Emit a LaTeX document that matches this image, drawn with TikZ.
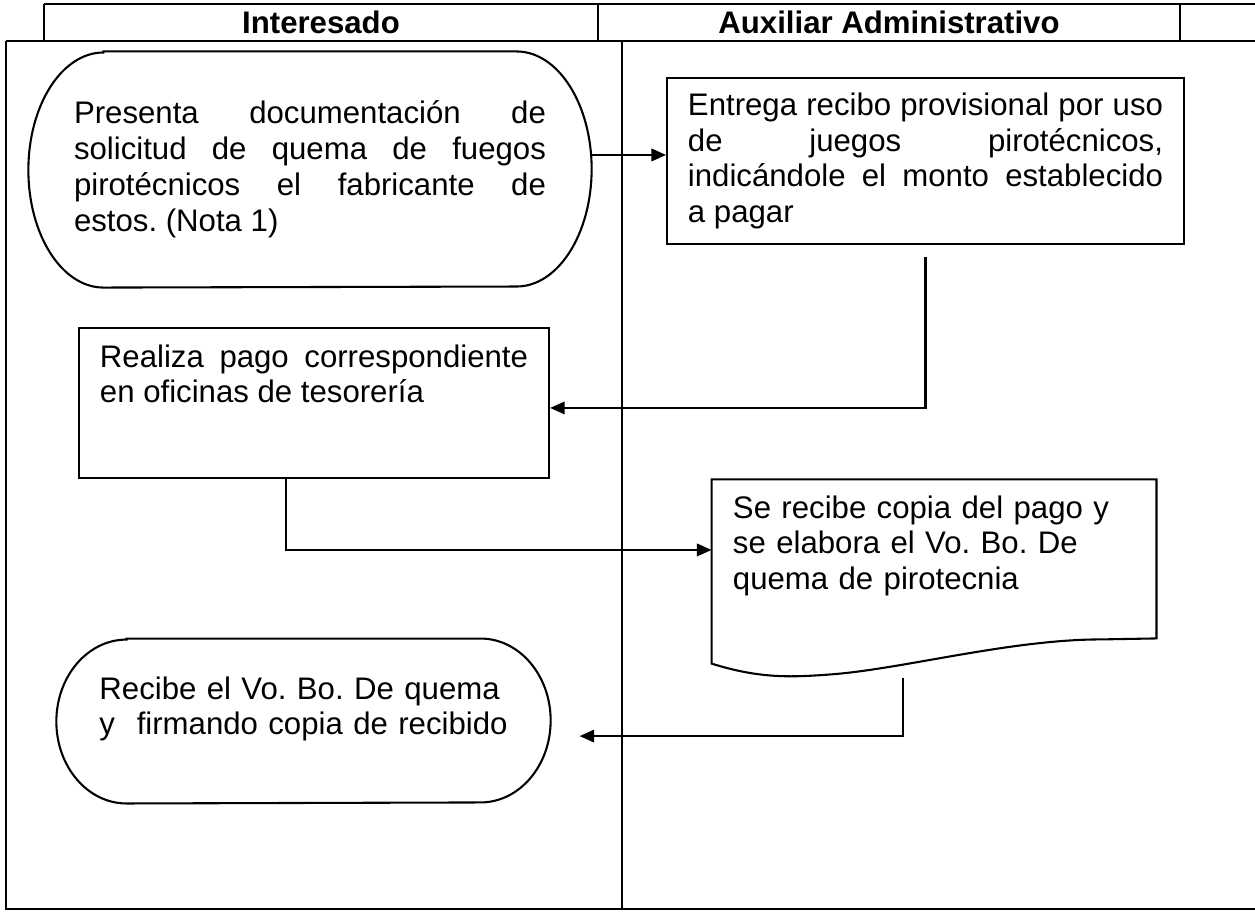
\documentclass[tikz,border=0pt]{standalone}
\usepackage{fontspec}
\setmainfont{Liberation Sans}
\usepackage{tikz}
\usetikzlibrary{positioning}
\usetikzlibrary{calc}
\usetikzlibrary{arrows.meta}
\newcommand{\pxl}{0.385pt}

\begin{document}
\frenchspacing
\begin{tikzpicture}[x=\pxl, y=-\pxl, font=\fontsize{12}{13.8}\selectfont\frenchspacing,
    lane/.style = {draw=black, line width=0.8pt},
    hdr/.style = {font=\fontsize{12}{13.8}\selectfont\bfseries, inner sep=0pt},
    term/.style = {rectangle, align=justify, inner sep=4pt},
    proc/.style = {draw=black, line width=0.8pt, rectangle, inner sep=4pt},
    docu/.style = {rectangle, align=left, inner sep=4pt},
    flow/.style = {draw=black, line width=0.8pt, -{Triangle[length=5.6pt, width=4.8pt]}}]

\useasboundingbox (0,0) rectangle (1255,914);

\draw[lane] (44,4) -- (1255,4);
\draw[lane] (44,4) -- (44,41);
\draw[lane] (598,4) -- (598,41);
\draw[lane] (1180,4) -- (1180,41);
\draw[lane] (6,41) -- (1255,41);
\draw[lane] (6,41) -- (6,909) -- (1255,909);
\draw[lane] (622,41) -- (622,909);

\node[hdr] (h1) at (321,22) {Interesado};
\node[hdr] (h2) at (889,22) {Auxiliar Administrativo};

\node[term, minimum width=216.4pt, minimum height=90.5pt, text width=181.7pt] (t1) at (310,169.5) {Presenta documentación de\linebreak solicitud de quema de fuegos\linebreak pirotécnicos el fabricante de\linebreak estos. (Nota 1)};
\draw[lane] ($(t1.north west)+(75,0)$) -- ($(t1.north east)+(-75,0)$) arc[start angle=90, end angle=-90, x radius=28.9pt, y radius=45.25pt] -- ($(t1.south west)+(75,0)$) arc[start angle=270, end angle=90, x radius=28.9pt, y radius=45.25pt] -- cycle;

\node[proc, align=justify, minimum width=199pt, minimum height=63.9pt, text width=182.9pt] (b1) at (925.5,161) {Entrega recibo provisional por uso\linebreak de juegos pirotécnicos,\linebreak indicándole el monto establecido\linebreak a pagar};

\node[proc, align=justify, minimum width=181pt, minimum height=57.75pt, text width=164.8pt, text height=9pt, text depth=36.7pt] (b2) at (314,403) {Realiza pago correspondiente\linebreak en oficinas de tesorería};

\node[docu, minimum width=170.9pt, minimum height=70.5pt, text width=154.8pt, text height=9pt, text depth=50.2pt] (b3) at (934,571.5) {Se recibe copia del pago y\\se elabora el Vo. Bo. De\\quema de pirotecnia};
\draw[lane] (b3.south west) -- (b3.north west) -- (b3.north east) -- ++(0,159) -- ++(-56,1) .. controls +(-90,0) and +(70,-5) .. ++(-270,35) .. controls +(-40,3) and +(48,15) .. (b3.south west) -- cycle;

\node[term, align=left, minimum width=189.8pt, minimum height=63.1pt, text width=157.1pt, text height=9pt, text depth=25.9pt] (t2) at (303.5,721) {Recibe el Vo. Bo. De quema\\y\hfill firmando copia de recibido};
\draw[lane] ($(t2.north west)+(70,0)$) -- ($(t2.north east)+(-70,0)$) arc[start angle=90, end angle=-90, x radius=27pt, y radius=31.55pt] -- ($(t2.south west)+(70,0)$) arc[start angle=270, end angle=90, x radius=27pt, y radius=31.55pt] -- cycle;

\draw[flow] ([yshift=5.6pt]t1.east) -- ([yshift=5.6pt]t1.east -| b1.west);
\draw[flow, shorten <=4.6pt] (b1.south) |- ([yshift=-1.9pt]b2.east);
\draw[flow] ([xshift=-10.8pt]b2.south) |- ([yshift=8.3pt]b3.west);
\draw[flow, shorten >=11.2pt] ([xshift=-11.9pt, yshift=-5.4pt]b3.south) |- ([yshift=-5.8pt]t2.east);

\end{tikzpicture}
\end{document}
